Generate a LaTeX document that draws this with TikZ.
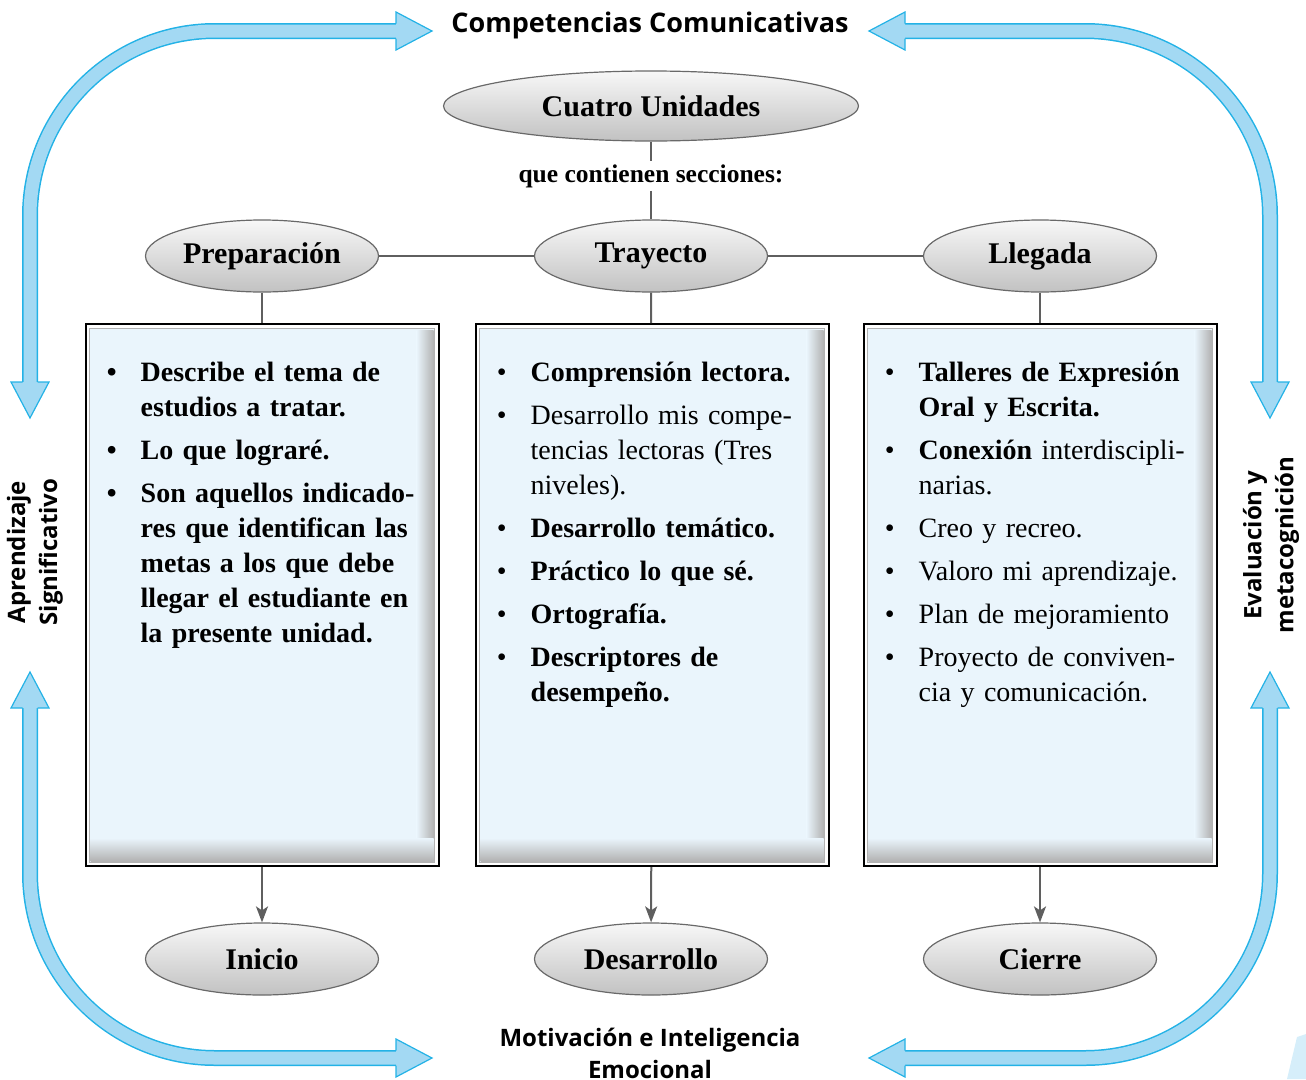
\documentclass[tikz,border=0pt]{standalone}
\usepackage{fontspec}
\setmainfont{Liberation Serif}
\newfontfamily\labelfont{Open Sans}
\usetikzlibrary{shapes.geometric,arrows.meta,calc}

\definecolor{arrowfill}{RGB}{163,217,243}
\definecolor{arrowedge}{RGB}{35,178,230}
\definecolor{boxfill}{RGB}{234,245,252}
\definecolor{linkgray}{RGB}{95,95,95}
\definecolor{ovaledge}{RGB}{105,105,105}

\newenvironment{boxlist}{\begin{list}{\textbullet}{\setlength{\leftmargin}{44pt}\setlength{\labelsep}{24pt}\setlength{\labelwidth}{20pt}\setlength{\itemsep}{8pt}\setlength{\parsep}{0pt}\setlength{\topsep}{0pt}\setlength{\partopsep}{0pt}\setlength{\itemindent}{0pt}}}{\end{list}}

\tikzset{bluehead/.pic={
  \filldraw[fill=arrowfill,draw=arrowedge,line width=1.2pt] (0,-7.5) -- (0,-19) -- (36,0) -- (0,19) -- (0,7.5);
}}

\begin{document}
\begin{tikzpicture}[x=1pt,y=-1pt]
\tikzstyle{bandedge}=[draw=arrowedge, line width=16pt, rounded corners=185pt]
\tikzstyle{bandfill}=[draw=arrowfill, line width=13pt, rounded corners=185pt]
\tikzstyle{oval}=[ellipse, draw=ovaledge, line width=1.2pt, top color=gray!6, middle color=gray!13, bottom color=gray!48, minimum width=233pt, minimum height=72pt, inner sep=0pt, font=\fontsize{30}{30}\selectfont\bfseries]
\tikzstyle{unitbox}=[rectangle, draw=black, line width=2pt, fill=white, minimum width=353pt, minimum height=542pt, inner sep=0pt,
  path picture={
    \filldraw[fill=boxfill, draw=gray!60, line width=1pt] ($(path picture bounding box.north west)+(4,4)$) rectangle ($(path picture bounding box.south east)+(-4,-4)$);
    \shade[left color=boxfill, right color=gray!60] ($(path picture bounding box.north east)+(-22,6)$) rectangle ($(path picture bounding box.south east)+(-5,-5)$);
    \shade[top color=boxfill, bottom color=gray!60] ($(path picture bounding box.south west)+(5,-28)$) rectangle ($(path picture bounding box.south east)+(-5,-5)$);
  }]
\tikzstyle{listtext}=[anchor=north west, inner sep=0pt, text width=340pt, align=left, font=\fontsize{28}{35}\selectfont]
\tikzstyle{link}=[draw=linkgray, line width=2pt]
\tikzstyle{sidelabel}=[font=\labelfont\bfseries\fontsize{24}{32}\selectfont, align=center, inner sep=0pt]
\useasboundingbox (0,0) rectangle (1306,1079);

% blue frame arrows
\foreach \ax/\ay/\bx/\by/\cx/\cy in {30/382/30/31/396/31, 905/31/1270/31/1270/382, 30/708/30/1058/396/1058, 905/1058/1270/1058/1270/708} {
  \draw[bandedge] (\ax,\ay) -- (\bx,\by) -- (\cx,\cy);
  \draw[bandfill] (\ax,\ay) -- (\bx,\by) -- (\cx,\cy);
}
\foreach \x/\y/\r in {396/31/0, 30/382/-90, 905/31/180, 1270/382/-90, 30/708/90, 396/1058/0, 905/1058/180, 1270/708/90}
  \pic[rotate=\r] at (\x,\y) {bluehead};
\fill[arrowfill!45] (1287,1079) -- (1297,1037) -- (1306,1034) -- (1306,1079) -- cycle;

% labels round the frame
\node[sidelabel, font=\labelfont\bfseries\fontsize{27}{27}\selectfont] (compet) at (650,25) {Competencias Comunicativas};
\node[sidelabel] (motiv) at (650,1053) {Motivación e Inteligencia\\Emocional};
\node[sidelabel, rotate=90] (aprend) at (35,552) {Aprendizaje\\Significativo};
\node[sidelabel, rotate=90] (evalua) at (1271,545) {Evaluación y\\metacognición};

% ovals
\node[oval, minimum width=415pt, minimum height=70pt] (cuatro) at (651,106) {Cuatro Unidades};
\node[fill=white, inner sep=3pt, font=\fontsize{25.5}{25.5}\selectfont\bfseries] (secc) at (651,176) {que contienen secciones:};
\node[oval] (prep) at (262,256) {Preparación};
\node[oval] (tray) at (651,256) {Trayecto};
\node[oval] (lleg) at (1040,256) {Llegada};
\node[oval] (ini) at (262,959) {Inicio};
\node[oval] (des) at (651,959) {Desarrollo};
\node[oval] (cie) at (1040,959) {Cierre};

% boxes
\node[unitbox] (prepbox) at (262,595) {};
\node[unitbox] (traybox) at (652,595) {};
\node[unitbox] (llegbox) at (1040,595) {};

\node[listtext, font=\fontsize{28}{35}\selectfont\bfseries] (preptext) at ([shift={(12,23)}]prepbox.north west) {\begin{boxlist}
\item Describe el tema de\\estudios a tratar.
\item Lo que lograré.
\item Son aquellos indicado-\\res que identifican las\\metas a los que debe\\llegar el estudiante en\\la presente unidad.
\end{boxlist}};
\node[listtext] (traytext) at ([shift={(12,23)}]traybox.north west) {\begin{boxlist}
\item \textbf{Comprensión lectora.}
\item Desarrollo mis compe-\\tencias lectoras (Tres\\niveles).
\item \textbf{Desarrollo temático.}
\item \textbf{Práctico lo que sé.}
\item \textbf{Ortografía.}
\item \textbf{Descriptores de\\desempeño.}
\end{boxlist}};
\node[listtext] (llegtext) at ([shift={(12,23)}]llegbox.north west) {\begin{boxlist}
\item \textbf{Talleres de Expresión\\Oral y Escrita.}
\item \textbf{Conexión} interdiscipli-\\narias.
\item Creo y recreo.
\item Valoro mi aprendizaje.
\item Plan de mejoramiento
\item Proyecto de conviven-\\cia y comunicación.
\end{boxlist}};

% connectors
\draw[link] (cuatro) -- (secc) -- (tray);
\draw[link] (prep) -- (tray) -- (lleg);
\draw[link] (prep) -- (prepbox);
\draw[link] (tray) -- (traybox);
\draw[link] (lleg) -- (llegbox);
\draw[link, -{Stealth[length=16pt,width=12pt,inset=4pt]}] (prepbox) -- (ini);
\draw[link, -{Stealth[length=16pt,width=12pt,inset=4pt]}] (traybox) -- (des);
\draw[link, -{Stealth[length=16pt,width=12pt,inset=4pt]}] (llegbox) -- (cie);
\end{tikzpicture}
\end{document}
